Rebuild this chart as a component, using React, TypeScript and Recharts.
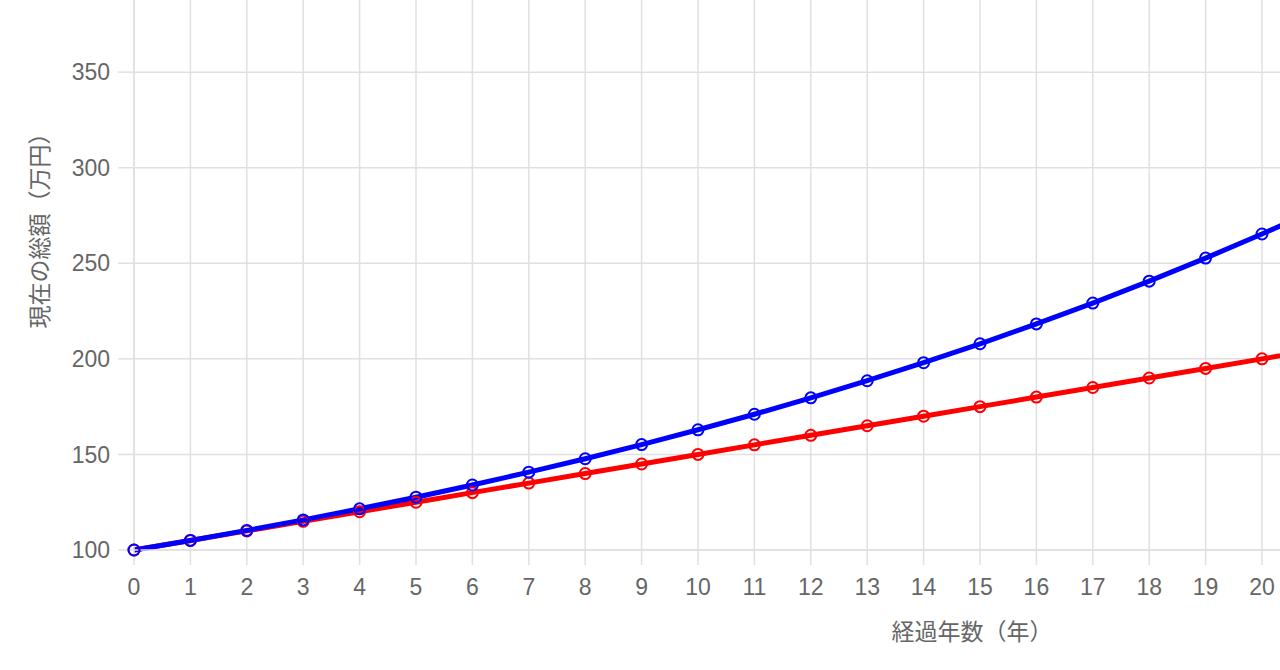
import React from 'react';
import { LineChart, Line, XAxis, YAxis, CartesianGrid, Label } from 'recharts';

// years elapsed (the chart continues to the right, beyond the visible frame)
const YEARS = [0, 1, 2, 3, 4, 5, 6, 7, 8, 9, 10, 11, 12, 13, 14, 15, 16, 17, 18, 19, 20, 21];
const SIMPLE_TOTAL = [100, 105, 110, 115, 120, 125, 130, 135, 140, 145, 150, 155, 160, 165, 170, 175, 180, 185, 190, 195, 200, 205];
const COMPOUND_TOTAL = [100, 105, 110.25, 115.76, 121.55, 127.63, 134.01, 140.71, 147.75, 155.13, 162.89, 171.03, 179.59, 188.56, 197.99, 207.89, 218.29, 229.2, 240.66, 252.7, 265.33, 278.6];
const X_TICKS = [0, 1, 2, 3, 4, 5, 6, 7, 8, 9, 10, 11, 12, 13, 14, 15, 16, 17, 18, 19, 20];
const Y_TICKS = [100, 150, 200, 250, 300, 350];

const data = YEARS.map((year, i) => ({
  year,
  simple: SIMPLE_TOTAL[i],
  compound: COMPOUND_TOTAL[i]
}));

const GRID = '#e0e0e0';
const TEXT = '#666';
const FONT = '"Liberation Sans", Arial, "Noto Sans CJK JP", sans-serif';

export default function App() {
  return (
    <div style={{ position: 'fixed', left: 0, top: 0, width: 1280, height: 670, overflow: 'hidden', background: '#fff' }}>
      <div style={{ position: 'absolute', left: 0, top: -140 }}>
        <LineChart width={1846} height={790} data={data} margin={{ top: 21, right: 20, left: 0, bottom: 0 }}>
          <CartesianGrid stroke={GRID} strokeWidth={1.5} />
          <XAxis
            dataKey="year"
            type="number"
            domain={[0, 30]}
            ticks={X_TICKS}
            interval={0}
            height={100}
            tickSize={15}
            tickMargin={14}
            axisLine={{ stroke: GRID, strokeWidth: 1.5 }}
            tickLine={{ stroke: GRID, strokeWidth: 1.5 }}
            tick={{ fill: TEXT, fontSize: 23, fontFamily: FONT }}
          >
            <Label
              content={() => (
                <text x={972} y={772} textAnchor="middle" dominantBaseline="central" fill={TEXT} fontSize={23} fontFamily={FONT}>
                  経過年数（年）
                </text>
              )}
            />
          </XAxis>
          <YAxis
            type="number"
            domain={[100, 450]}
            ticks={Y_TICKS}
            width={134}
            tickSize={16}
            tickMargin={8}
            axisLine={{ stroke: GRID, strokeWidth: 1.5 }}
            tickLine={{ stroke: GRID, strokeWidth: 1.5 }}
            tick={{ fill: TEXT, fontSize: 23, fontFamily: FONT }}
          >
            <Label
              content={() => (
                <text
                  x={40}
                  y={365}
                  transform="rotate(-90, 40, 365)"
                  textAnchor="middle"
                  dominantBaseline="central"
                  fill={TEXT}
                  fontSize={23}
                  fontFamily={FONT}
                >
                  現在の総額（万円）
                </text>
              )}
            />
          </YAxis>
          <Line
            type="linear"
            dataKey="simple"
            stroke="#ff0000"
            strokeWidth={5}
            dot={{ r: 5.5, stroke: '#ff0000', strokeWidth: 2, fill: 'none' }}
            isAnimationActive={false}
          />
          <Line
            type="linear"
            dataKey="compound"
            stroke="#0000ff"
            strokeWidth={5}
            dot={{ r: 5.5, stroke: '#0000ff', strokeWidth: 2, fill: 'none' }}
            isAnimationActive={false}
          />
        </LineChart>
      </div>
    </div>
  );
}
